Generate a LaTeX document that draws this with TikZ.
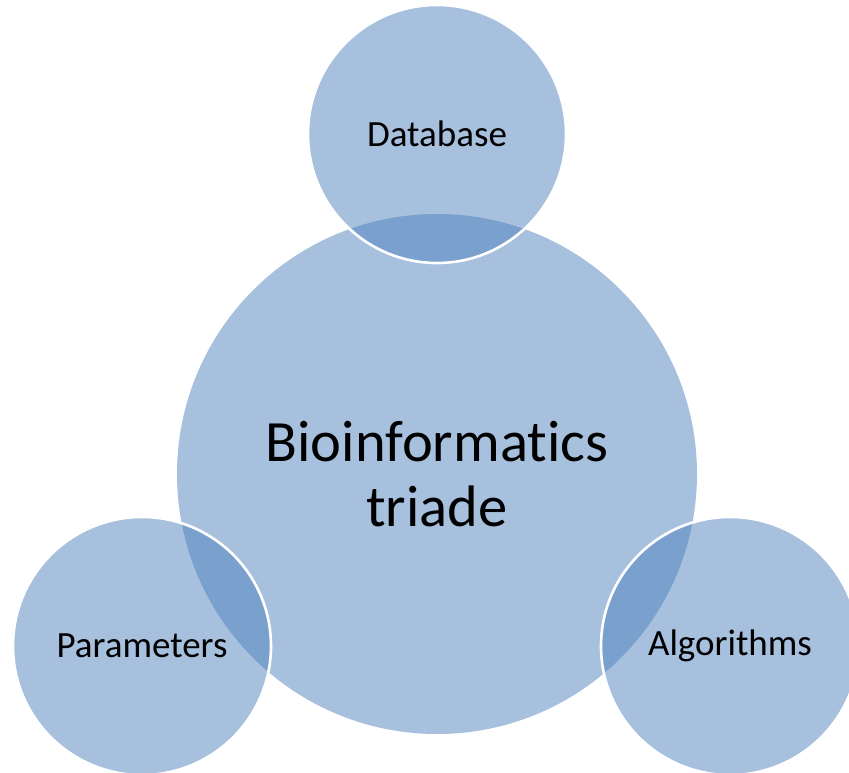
\documentclass[tikz,border=0pt]{standalone}
\usepackage{fontspec}
\setmainfont[Ligatures=NoCommon]{Carlito}
\definecolor{accent}{HTML}{4F81BD}
\tikzset{
  disc/.style={circle, inner sep=0pt, fill=accent, fill opacity=0.5,
    text opacity=1, text=black, align=center},
  hub/.style={disc, minimum size=520pt,
    font=\fontsize{58.5}{65}\selectfont},
  spoke/.style={disc, minimum size=258pt, draw=white, draw opacity=1,
    line width=2.6pt, font=\fontsize{37}{44}\selectfont}
}
\begin{document}
\begin{tikzpicture}[x=1pt, y=-1pt]
  \useasboundingbox (0,0) rectangle (849,773);
  \node[hub] (core) at (437,474) {Bioinformatics\\triade};
  \node[spoke] (db) at (437,134) {Database};
  \node[spoke] (par) at (142,646) {Parameters};
  \node[spoke] (alg) at (730,646) {Algorithms};
\end{tikzpicture}
\end{document}
